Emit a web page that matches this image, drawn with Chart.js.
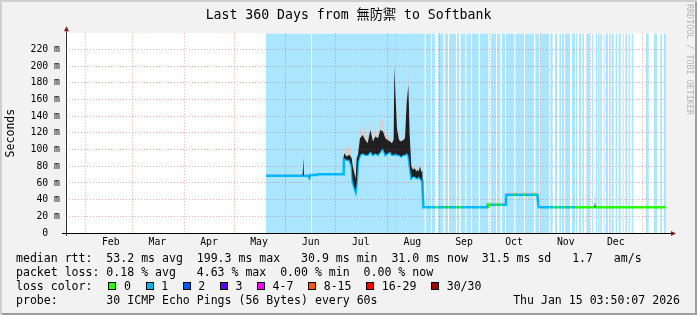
<!DOCTYPE html>
<html><head><meta charset="utf-8">
<script src="https://cdn.jsdelivr.net/npm/chart.js@4/dist/chart.umd.min.js"></script>
<style>
html,body{margin:0;padding:0;background:#f2f2f2;}
#wrap{position:relative;width:697px;height:315px;background:#f2f2f2;overflow:hidden;font-family:"DejaVu Sans Mono",monospace;color:#000;}
#c{position:absolute;left:0;top:0;}
.lg{position:absolute;left:16px;font-size:11.55px;line-height:14px;white-space:pre;}
.box{position:absolute;top:282px;width:6px;height:6px;border:1px solid #000;}
#wm{position:absolute;left:685px;top:4px;writing-mode:vertical-rl;font-size:8.4px;color:#b4b4b4;white-space:pre;}
#shade{position:absolute;left:0;top:0;width:697px;height:315px;pointer-events:none;box-shadow:inset 2px 2px 0 #cfcfcf, inset -2px -2px 0 #9e9e9e;}
</style></head>
<body>
<div id="wrap">
<canvas id="c" width="697" height="315"></canvas>
<div id="wm">RRDTOOL / TOBI OETIKER</div>
<div class="lg" style="top:251px">median rtt:  53.2 ms avg  199.3 ms max   30.9 ms min  31.0 ms now  31.5 ms sd   1.7   am/s</div>
<div class="lg" style="top:265px">packet loss: 0.18 % avg   4.63 % max  0.00 % min  0.00 % now</div>
<div class="lg" style="top:279px">loss color:</div>
<div id="lossLegend"></div>
<div class="lg" style="top:293px">probe:       30 ICMP Echo Pings (56 Bytes) every 60s</div>
<div class="lg" style="top:293px;left:auto;right:17px">Thu Jan 15 03:50:07 2026</div>
<div id="shade"></div>
</div>
<script>
// ---------------- data ----------------
const TITLE = 'Last 360 Days from 無防禦 to Softbank';
const Y_MAX = 239.5;                 // ms, top of the plot
const monthLabels = ['Feb','Mar','Apr','May','Jun','Jul','Aug','Sep','Oct','Nov','Dec'];
const yTickValues = [0,10,20,30,40,50,60,70,80,90,100,110,120,130,140,150,160,170,180,190,200,210,220,230];

// x = days since start of the 360-day window
const days = [120.0,142.0,142.4,142.8,145.6,146.0,146.6,150.4,150.8,166.6,
  166.8,168.4,170.0,171.4,172.0,173.0,173.8,174.4,175.2,176.4,178.0,179.6,181.0,182.6,184.2,185.6,187.2,188.6,190.2,191.6,
  193.0,194.4,195.6,196.6,197.0,197.6,198.6,199.8,201.0,202.4,203.4,204.4,205.4,206.2,207.2,208.2,209.2,210.2,210.8,211.6,
  212.4,213.2,213.8,
  214.4,252.8,253.0,263.8,264.0,282.8,283.6,317.0,317.4,317.8,360.0];
// median rtt (ms)
const median = [68.5,68.5,68.5,68.5,68.5,66.5,69.5,69.5,70.3,70.3,
  89.7,87.7,87.7,80.0,62.0,55.0,49.8,60.0,85.7,93.7,95.7,93.7,93.7,97.6,93.7,95.7,93.7,97.6,101.6,93.7,
  95.7,97.6,93.7,93.7,93.7,95.7,93.7,93.7,91.7,93.7,93.7,95.7,93.7,81.7,65.8,67.8,67.8,65.8,65.8,67.8,
  65.8,63.8,61.8,
  31,31,34,34,46,46,31,31,31,31,31];
// dense smoke upper edge (ms)
const smokeHi = [68.5,68.5,90.5,68.5,68.5,68.5,69.5,69.5,70.3,70.3,
  95.7,91.7,93.7,90.0,80.0,71.8,65.0,89.7,93.7,113.6,117.6,111.6,107.6,123.6,109.6,115.6,113.6,123.6,121.6,113.6,
  111.6,109.6,107.6,112.0,199.3,169.4,125.0,111.6,109.6,111.6,113.6,155.5,177.4,117.6,79.7,75.7,77.7,73.7,75.7,73.7,
  79.7,73.7,73.7,
  31,31,34,34,46,46,31,31,37,31,31];
// light smoke upper edge (ms)
const smokeTop = [71.0,71.0,91.5,71.0,70.5,69.0,70.5,71.0,72.0,72.0,
  100.0,101.6,107.6,95.0,85.0,79.7,70.0,92.0,97.0,131.6,120.0,127.6,110.0,135.5,112.0,127.6,116.0,137.5,133.5,116.0,
  117.6,116.0,109.6,114.0,212.0,174.0,137.5,114.0,111.6,114.0,121.6,158.0,201.3,120.0,85.7,78.0,79.7,76.0,83.7,76.0,
  85.7,76.0,75.0,
  31,32,37,37,49.5,49.5,31.5,31.5,54,31.5,31.5];
// periods with 1 lost ping (day ranges) - background bars
const lossStripes = [[120.0,147.0],[147.6,215.2],[216.0,219.0],[219.6,221.4],[223.2,226.6],[227.4,229.2],[229.8,234.0],
  [234.6,235.8],[236.8,239.4],[240.2,243.0],[243.6,247.6],[248.4,253.4],[254.8,258.0],[258.6,260.6],[261.6,263.4],
  [264.0,269.0],[269.6,274.8],[275.4,280.8],[281.6,284.0],[284.6,289.8],[290.6,292.0],[293.4,294.6],[296.0,297.0],
  [297.6,298.8],[299.4,302.4],[303.6,305.4],[306.0,306.8],[307.8,309.0],[309.8,310.8],[312.2,314.4],[315.6,316.2],
  [317.8,318.6],[319.2,320.2],[320.6,321.6],[322.6,323.2],[324.0,325.2],[325.8,326.8],[327.6,328.6],[329.8,330.8],
  [331.6,332.8],[334.0,334.6],[335.6,336.6],[337.6,338.4],[339.4,340.4],[348.0,349.6],[352.8,354.6],[356.6,357.6],[358.8,360.0]];
// periods where the median line is drawn in the loss-1 colour
const medianLoss1 = [[120.0,147.0],[147.6,215.2],[216.0,219.0],[219.6,221.4],[223.2,226.6],[227.4,229.2],[229.8,234.0],
  [234.6,235.8],[236.8,239.4],[240.2,243.0],[243.6,247.6],[248.4,253.4],[254.8,258.0],[258.6,260.6],[261.6,263.4],
  [264.0,269.0],[269.6,274.8],[275.4,280.8],[281.6,284.0],[284.6,289.8],[290.6,292.0],[293.4,294.6],[296.0,297.0],
  [297.6,298.8],[299.4,302.4],[303.6,305.4]];
// periods with 2 lost pings
const loss2Stripes = [[197.6,198.2]];

const lossLabels = ['0','1','2','3','4-7','8-15','16-29','30/30'];
const lossColors = ['#26ff00','#00b8ff','#0059ff','#5e00ff','#ff00ff','#ff5500','#ff0000','#a10000'];

// ---------------- layout / style ----------------
const lossBoxX = [108.3,145.5,182.6,219.8,256.9,308,366,431];
const LOSS_BG1 = 'rgb(170,230,255)';
const LOSS_BG2 = 'rgb(171,200,255)';
const MGRID = 'rgba(222,48,47,0.42)';
const GRID = 'rgba(143,143,143,0.38)';
const MONO = '"DejaVu Sans Mono", "Noto Sans CJK TC", monospace';

// legend boxes
const ll = document.getElementById('lossLegend');
lossLabels.forEach((lab, i) => {
  const b = document.createElement('div'); b.className = 'box';
  b.style.left = lossBoxX[i] + 'px'; b.style.background = lossColors[i]; ll.appendChild(b);
  const t = document.createElement('div'); t.className = 'lg';
  t.style.top = '279px'; t.style.left = (lossBoxX[i] + 15.7) + 'px'; t.textContent = lab; ll.appendChild(t);
});

// month ticks
const START = Date.UTC(2025,0,20,3,50,7), DAY = 86400000;
const xTicks = [];
for (let m = 1; m <= 12; m++) {
  const b = (Date.UTC(2025,m,1) - START) / DAY;
  xTicks.push({value:b, label:'', grid:true});
  if (m <= 11) xTicks.push({value:b + 15, label:monthLabels[m-1], grid:false});
}
xTicks.sort((a,b)=>a.value-b.value);

const pts = arr => days.map((d,i)=>({x:d, y:arr[i]}));
const stripeData = list => { const o=[]; list.forEach(([s,e])=>{o.push({x:s,y:Y_MAX},{x:e,y:0});}); return o; };

function lossGradient(c) {
  const chart = c.chart, a = chart.chartArea;
  if (!a || !chart.scales.x) return lossColors[0];
  const xs = chart.scales.x, w = a.right - a.left;
  const g = chart.ctx.createLinearGradient(a.left, 0, a.right, 0);
  const f = v => Math.min(1, Math.max(0, (xs.getPixelForValue(v) - a.left) / w));
  g.addColorStop(0, lossColors[0]);
  medianLoss1.forEach(([s,e]) => {
    const ps=f(s), pe=f(e);
    g.addColorStop(ps, lossColors[0]); g.addColorStop(ps, lossColors[1]);
    g.addColorStop(pe, lossColors[1]); g.addColorStop(pe, lossColors[0]);
  });
  g.addColorStop(1, lossColors[0]);
  return g;
}

const NONE = 'rgba(0,0,0,0)';
const common = {pointRadius:0, pointHoverRadius:0, tension:0};

const bgPlugin = {id:'bg', beforeDraw(chart){
  const {ctx, chartArea:a} = chart; ctx.save(); ctx.fillStyle='#fff';
  ctx.fillRect(a.left, a.top, a.right-a.left, a.bottom-a.top); ctx.restore(); }};
const axisPlugin = {id:'axes', afterDraw(chart){
  const {ctx, chartArea:a} = chart; ctx.save();
  ctx.lineWidth = 1; ctx.strokeStyle = '#000';
  ctx.beginPath(); ctx.moveTo(a.left-4, a.bottom+0.5); ctx.lineTo(a.right+5, a.bottom+0.5); ctx.stroke();
  ctx.strokeStyle = '#333';
  ctx.beginPath(); ctx.moveTo(a.left+0.5, a.bottom+3); ctx.lineTo(a.left+0.5, a.top-2); ctx.stroke();
  ctx.fillStyle = '#7f1f1f';
  ctx.beginPath(); ctx.moveTo(a.right+5, a.bottom-2); ctx.lineTo(a.right+10, a.bottom+0.5); ctx.lineTo(a.right+5, a.bottom+3); ctx.closePath(); ctx.fill();
  ctx.beginPath(); ctx.moveTo(a.left-2, a.top-2); ctx.lineTo(a.left+0.5, a.top-7); ctx.lineTo(a.left+3, a.top-2); ctx.closePath(); ctx.fill();
  ctx.restore(); }};

new Chart(document.getElementById('c'), {
  type:'line',
  data:{datasets:[
    {...common, data:stripeData(lossStripes), stepped:true, fill:'start', backgroundColor:LOSS_BG1, borderColor:NONE, borderWidth:0, order:10},
    {...common, data:stripeData(loss2Stripes), stepped:true, fill:'start', backgroundColor:LOSS_BG2, borderColor:NONE, borderWidth:0, order:9},
    {...common, data:pts(smokeTop), fill:3, backgroundColor:'#d2d2d2', borderColor:NONE, borderWidth:0, order:8},
    {...common, data:pts(smokeHi), fill:4, backgroundColor:'#1f1f1f', borderColor:NONE, borderWidth:0, order:1},
    {...common, data:pts(median), fill:false, borderColor:lossGradient, borderWidth:2.5, order:2}
  ]},
  options:{
    responsive:false, animation:false, devicePixelRatio:1,
    layout:{padding:{left:0, right:0, top:0, bottom:0}},
    plugins:{
      legend:{display:false}, tooltip:{enabled:false},
      title:{display:true, text:TITLE, color:'#000', font:{family:MONO, size:13.2, weight:'normal', lineHeight:1}, padding:{top:9, bottom:11}}
    },
    scales:{
      x:{type:'linear', min:0, max:360,
        afterBuildTicks:s=>{ s.ticks = xTicks.map(t=>({value:t.value})); },
        afterFit:s=>{ s.height = 82; },
        ticks:{autoSkip:false, maxRotation:0, padding:4, color:'#000', font:{family:MONO, size:9.8},
          callback:(v,i)=>xTicks[i] ? xTicks[i].label : ''},
        grid:{z:1, drawTicks:false, lineWidth:1, color:c=>(xTicks[c.index] && xTicks[c.index].grid) ? MGRID : NONE},
        border:{display:false, dash:[1,2]}
      },
      y:{type:'linear', min:0, max:Y_MAX,
        afterBuildTicks:s=>{ s.ticks = yTickValues.map(v=>({value:v})); },
        afterFit:s=>{ s.width = 66; },
        ticks:{padding:6, color:'#000', font:{family:MONO, size:9.8},
          callback:v=> v % 20 === 0 ? (v === 0 ? '0  ' : v + ' m') : ''},
        grid:{z:1, drawTicks:false, lineWidth:1, color:c=> (c.tick && c.tick.value % 20 === 0) ? MGRID : GRID},
        border:{display:false, dash:[1,2]},
        title:{display:true, text:'Seconds', color:'#000', font:{family:MONO, size:11.55}, padding:{top:4, bottom:0}}
      },
      yr:{type:'linear', position:'right', display:true,
        afterFit:s=>{ s.width = 31; },
        ticks:{display:false}, grid:{display:false, drawOnChartArea:false}, border:{display:false}}
    }
  },
  plugins:[bgPlugin, axisPlugin]
});
</script>
</body></html>
